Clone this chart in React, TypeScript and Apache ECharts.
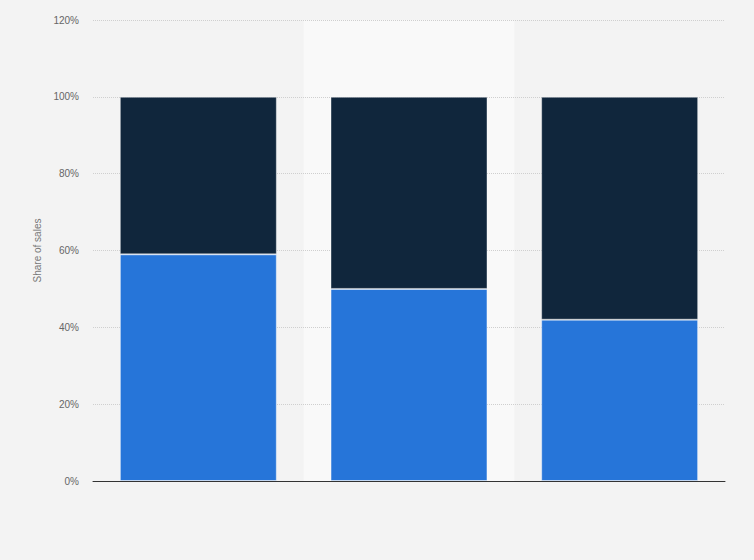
import React, { useEffect, useRef } from 'react';
import * as echarts from 'echarts';

// categories have no visible labels in the reference
const categories = ['A', 'B', 'C'];
const lowerShare = [59, 50, 42];
const upperShare = [41, 50, 58];
const highlightBand = ['-', 120, '-'];
const yTicks = { min: 0, max: 120, interval: 20 };

const App: React.FC = () => {
  const chartRef = useRef<HTMLDivElement>(null);

  useEffect(() => {
    const chart = echarts.init(chartRef.current!, undefined, { renderer: 'svg' });

    const options = {
      animation: false,
      backgroundColor: '#f3f3f3',
      textStyle: { fontFamily: 'Liberation Sans, Arial, sans-serif' },
      grid: { left: 93, right: 29, top: 20, bottom: 79 },
      xAxis: [
        {
          type: 'category',
          data: categories,
          axisLine: { lineStyle: { color: '#333', width: 1 } },
          axisTick: { show: false },
          axisLabel: { show: false },
        },
        {
          type: 'category',
          data: categories,
          show: false,
        },
      ],
      yAxis: {
        type: 'value',
        min: yTicks.min,
        max: yTicks.max,
        interval: yTicks.interval,
        name: 'Share of sales',
        nameLocation: 'middle',
        nameGap: 47,
        nameTextStyle: { color: '#777', fontSize: 10 },
        axisLine: { show: false },
        axisTick: { show: false },
        axisLabel: {
          color: '#666',
          fontSize: 10,
          margin: 14,
          formatter: (v: number) => `${v}%`,
        },
        splitLine: { lineStyle: { color: '#cfcfcf', type: 'dotted', width: 1 } },
      },
      series: [
        {
          type: 'bar',
          xAxisIndex: 1,
          data: highlightBand,
          barWidth: '100%',
          itemStyle: { color: '#f9f9f9' },
          z: -1,
          silent: true,
        },
        {
          type: 'bar',
          stack: 'share',
          data: lowerShare,
          barCategoryGap: '25.5%',
          itemStyle: { color: '#2675d9', borderColor: 'rgba(255,255,255,0.45)', borderWidth: 1 },
        },
        {
          type: 'bar',
          stack: 'share',
          data: upperShare,
          itemStyle: { color: '#10263c', borderColor: 'rgba(255,255,255,0.35)', borderWidth: 1 },
        },
      ],
    };

    chart.setOption(options);

    return () => {
      chart.dispose();
    };
  }, []);

  return (
    <div
      ref={chartRef}
      style={{ position: 'fixed', left: 0, top: 0, width: '754px', height: '560px' }}
    />
  );
};

export default App;
